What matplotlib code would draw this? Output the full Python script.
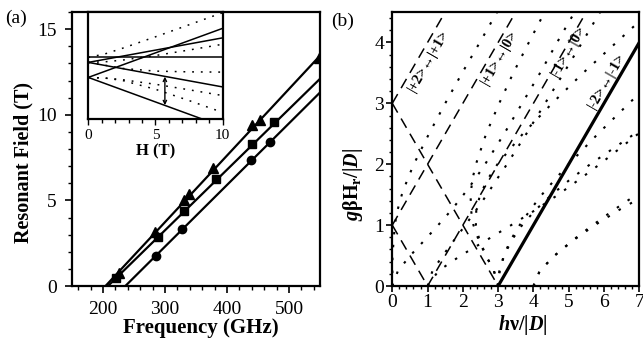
import matplotlib
matplotlib.use('Agg')
import matplotlib.pyplot as plt
from matplotlib.ticker import MultipleLocator

plt.rcParams['font.family'] = ['Liberation Serif', 'DejaVu Serif']
plt.rcParams['mathtext.fontset'] = 'custom'
plt.rcParams['mathtext.rm'] = 'Liberation Serif:bold'
plt.rcParams['mathtext.it'] = 'Liberation Serif:bold'
plt.rcParams['mathtext.bf'] = 'Liberation Serif:bold:italic'

# ---------------- Panel (a) data ----------------
freq_tri = [226, 284, 330, 338, 378, 441, 453, 548]
field_tri = [0.78, 3.17, 5.0, 5.4, 6.87, 9.40, 9.69, 13.3]
freq_sq = [221, 288, 330, 383, 440, 475]
field_sq = [0.45, 2.84, 4.36, 6.25, 8.29, 9.59]
freq_ci = [285, 328, 439, 469]
field_ci = [1.75, 3.31, 7.36, 8.41]
fit_tri_f = [204, 550]
fit_tri_h = [0, 13.45]
fit_sq_f = [208, 550]
fit_sq_h = [0, 12.1]
fit_ci_f = [236, 550]
fit_ci_h = [0, 11.3]

# inset: energy levels (units |D|) vs H (T)
inset_H = [0, 10]
lev_par = [[0, 0], [-1, 3.9], [-1, -5.9], [-4, 5.8], [-4, -13.8]]
inset_Hp = [0, 1.25, 2.5, 5, 7.5, 10]
lev_perp = [
    [0, 0.70, 1.78, 4.11, 6.51, 8.93],
    [-1, -0.88, -0.56, 0.37, 1.47, 2.62],
    [-1, -1.56, -2.19, -2.74, -2.89, -2.94],
    [-4, -4.12, -4.44, -5.37, -6.47, -7.62],
    [-4, -4.14, -4.58, -6.37, -8.62, -10.99],
]
arrow_H = 5.7
arrow_E = [-3.85, -9.55]

# ---------------- Panel (b) data ----------------
dash_nu = [[0, 1.5], [0, 3], [0, 3.5], [0, 1], [1, 5.5]]
dash_h = [[3, 4.5], [3, 0], [1, 4.5], [1, 0], [0, 4.5]]
solid_nu = [3, 7]
solid_h = [0, 4]

hgrid = [0, 0.25, 0.5, 0.75, 1, 1.25, 1.5, 1.75, 2, 2.5, 3, 3.5, 4, 4.5]
perp_curves = [
    ([0, 0.006, 0.07, 0.15, 0.27, 0.43, 0.61, 1.04, 1.50, 1.98, 2.48, 2.97],
     [0, 0.5, 1, 1.25, 1.5, 1.75, 2, 2.5, 3, 3.5, 4, 4.5]),
    ([3, 2.88, 2.65, 2.45, 2.30, 2.23, 2.22, 2.27, 2.37, 2.66, 3.03, 3.43, 3.87, 4.32], hgrid),
    ([3, 2.88, 2.66, 2.47, 2.37, 2.38, 2.49, 2.70, 2.98, 3.70, 4.53, 5.41, 6.35, 7.29], hgrid),
    ([0, 0.16, 0.51, 0.91, 1.30, 1.68, 2.02, 2.34, 2.63, 3.17, 3.68, 4.19, 4.67, 5.17], hgrid),
    ([1, 1.14, 1.43, 1.75, 2.07, 2.38, 2.68, 2.96, 3.25, 3.80, 4.33, 4.86, 5.38, 5.89], hgrid),
    ([3, 3.04, 3.17, 3.38, 3.68, 4.06, 4.52, 5.04, 5.61, 6.87],
     [0, 0.25, 0.5, 0.75, 1, 1.25, 1.5, 1.75, 2, 2.5]),
    ([3, 3.04, 3.16, 3.35, 3.61, 3.91, 4.24, 4.61, 5.0, 5.83, 6.71, 7.16],
     [0, 0.25, 0.5, 0.75, 1, 1.25, 1.5, 1.75, 2, 2.5, 3, 3.25]),
    ([1, 1.31, 1.94, 2.66, 3.37, 4.06, 4.70, 5.30, 5.88, 6.97],
     [0, 0.25, 0.5, 0.75, 1, 1.25, 1.5, 1.75, 2, 2.5]),
    ([4, 4.18, 4.60, 5.13, 5.74, 6.43, 7.19], [0, 0.25, 0.5, 0.75, 1, 1.25, 1.5]),
    ([4, 4.18, 4.60, 5.11, 5.68, 6.28, 6.92], [0, 0.25, 0.5, 0.75, 1, 1.25, 1.5]),
]
label_text = ['|+2>\u2194|+1>', '|+1>\u2194|0>', '|-1>\u2194|0>', '|-2>\u2194|-1>']
label_nu = [1.02, 3.05, 4.99, 6.07]
label_h = [3.70, 3.75, 3.86, 3.37]

fig = plt.figure(figsize=(6.43, 3.39), dpi=100)

# ================= Panel (a) =================
axa = fig.add_axes([0.1120, 0.1563, 0.3857, 0.8083])
lw = 1.6
axa.plot(fit_tri_f, fit_tri_h, color='black', lw=lw)
axa.plot(fit_sq_f, fit_sq_h, color='black', lw=lw)
axa.plot(fit_ci_f, fit_ci_h, color='black', lw=lw)
axa.plot(freq_tri, field_tri, linestyle='none', marker='^', ms=6.5, color='black')
axa.plot(freq_sq, field_sq, linestyle='none', marker='s', ms=5.5, color='black')
axa.plot(freq_ci, field_ci, linestyle='none', marker='o', ms=6, color='black')
axa.set_xlim(150, 550)
axa.set_ylim(0, 16)
axa.xaxis.set_major_locator(MultipleLocator(100))
axa.xaxis.set_minor_locator(MultipleLocator(20))
axa.yaxis.set_major_locator(MultipleLocator(5))
axa.yaxis.set_minor_locator(MultipleLocator(1))
axa.set_xticks([200, 300, 400, 500])
axa.tick_params(which='major', direction='out', length=5, width=1.2, labelsize=14, pad=6)
axa.tick_params(which='minor', direction='out', length=3, width=1)
for s in axa.spines.values():
    s.set_linewidth(1.6)
axa.set_ylabel('Resonant Field (T)', fontsize=14.5, fontweight='bold')
axa.yaxis.set_label_coords(-0.157, 0.45)
axa.set_xlabel('Frequency (GHz)', fontsize=15, fontweight='bold')
axa.xaxis.set_label_coords(0.52, -0.118)

# inset
axi = fig.add_axes([0.1373, 0.6475, 0.2090, 0.3171])
for E0, E1 in lev_par:
    axi.plot(inset_H, [E0, E1], color='black', lw=1.1)
for lev in lev_perp:
    axi.plot(inset_Hp, lev, color='black', lw=1.1, linestyle=(0, (1.2, 4.5)))
axi.annotate('', xy=(arrow_H, arrow_E[0]), xytext=(arrow_H, arrow_E[1]),
             arrowprops=dict(arrowstyle='<->', color='black', lw=1.0,
                             shrinkA=0, shrinkB=0, mutation_scale=6))
axi.set_xlim(0, 10)
axi.set_ylim(-12.4, 9.06)
axi.set_yticks([])
axi.set_xticks([0, 5, 10])
axi.xaxis.set_minor_locator(MultipleLocator(1))
axi.tick_params(which='major', direction='out', length=4, width=1, labelsize=11, pad=3)
axi.tick_params(which='minor', direction='out', length=3, width=1)
for s in axi.spines.values():
    s.set_linewidth(1.6)
axi.set_xlabel('H (T)', fontsize=12, fontweight='bold', labelpad=1)

fig.text(0.008, 0.945, '(a)', fontsize=14, va='center', ha='left')

# ================= Panel (b) =================
axb = fig.add_axes([0.6101, 0.1563, 0.3841, 0.8083])
for nu, hh in perp_curves:
    axb.plot(nu, hh, color='black', lw=1.5, linestyle=(0, (1.2, 5)))
for nu, hh in zip(dash_nu, dash_h):
    axb.plot(nu, hh, color='black', lw=1.1, linestyle=(0, (7, 4.5)))
axb.plot(solid_nu, solid_h, color='black', lw=2.3)
for t, x, y in zip(label_text, label_nu, label_h):
    axb.text(x, y, t, rotation=60, rotation_mode='anchor', ha='center', va='center',
             fontsize=10.5, fontweight='bold')
axb.set_xlim(0, 7)
axb.set_ylim(0, 4.5)
axb.xaxis.set_major_locator(MultipleLocator(1))
axb.xaxis.set_minor_locator(MultipleLocator(0.2))
axb.yaxis.set_major_locator(MultipleLocator(1))
axb.yaxis.set_minor_locator(MultipleLocator(0.2))
axb.tick_params(which='major', direction='out', length=4, width=1.2, labelsize=14, pad=2)
axb.tick_params(which='minor', direction='out', length=2.5, width=1)
for s in axb.spines.values():
    s.set_linewidth(1.6)
axb.set_ylabel(r'$\mathbf{g}\beta H_r/|\mathbf{D}|$', fontsize=14.5)
axb.yaxis.set_label_coords(-0.11, 0.37)
axb.set_xlabel(r'$\mathbf{h}\nu/|\mathbf{D}|$', fontsize=14.5)
axb.xaxis.set_label_coords(0.53, -0.098)

fig.text(0.515, 0.936, '(b)', fontsize=14, va='center', ha='left')

fig.savefig('out.png', dpi=100)
